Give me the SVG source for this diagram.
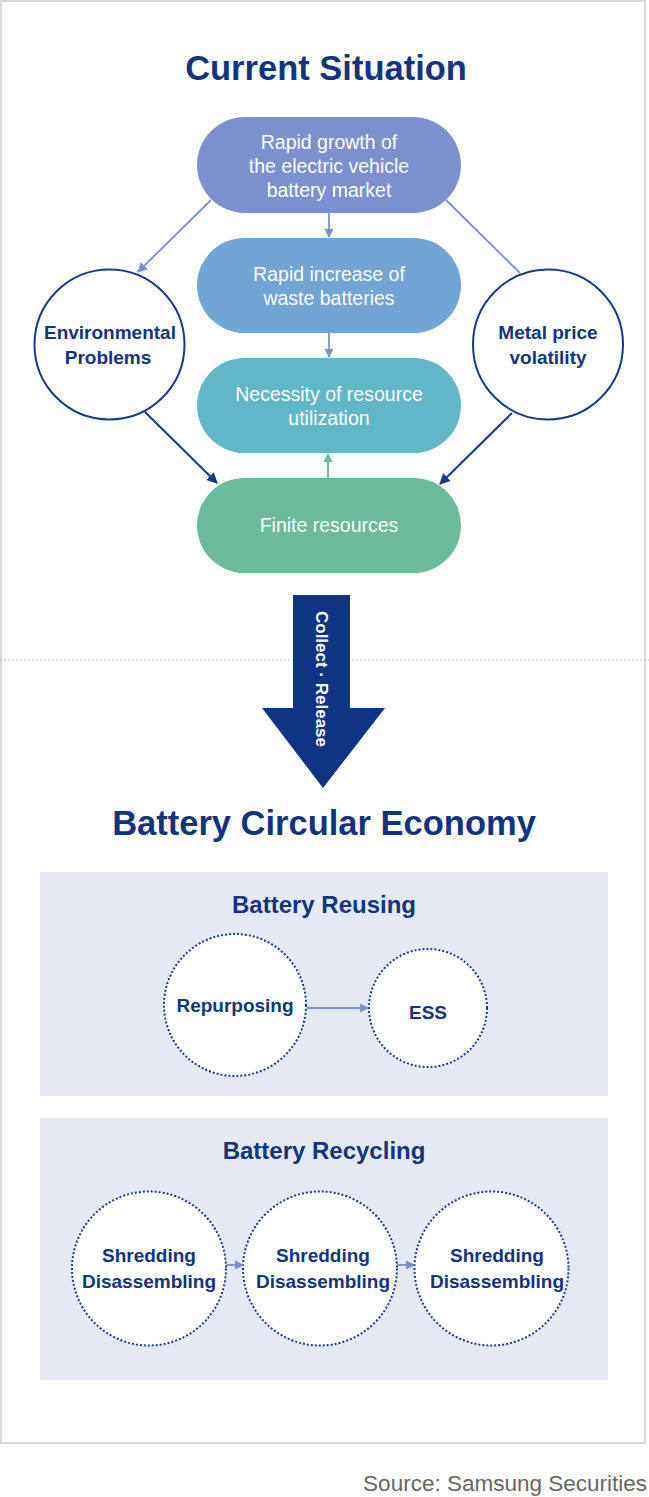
<svg xmlns="http://www.w3.org/2000/svg" width="649" height="1497" viewBox="0 0 649 1497">
<style>
.title{font-family:"Liberation Sans",Arial,sans-serif;font-weight:bold;font-size:34.5px;fill:#12347f;text-anchor:middle}
.sub{font-family:"Liberation Sans",Arial,sans-serif;font-weight:bold;font-size:24px;fill:#12347f;text-anchor:middle}
.pt{font-family:"Liberation Sans",Arial,sans-serif;font-size:19.5px;fill:#ffffff;text-anchor:middle}
.ct{font-family:"Liberation Sans",Arial,sans-serif;font-weight:bold;font-size:19px;fill:#12347f;text-anchor:middle}
.circ{fill:#ffffff;stroke:#163a8a;stroke-width:2}
.dot{fill:#ffffff;stroke:#1b3c88;stroke-width:2;stroke-dasharray:2 2}
.lt{stroke:#7b8fd0;stroke-width:1.8;fill:none}
.nv{stroke:#163a8a;stroke-width:2;fill:none}
.gr{stroke:#6aba9b;stroke-width:2;fill:none}
</style>
<defs>
<marker id="aL" viewBox="0 0 10 10" refX="9" refY="5" markerWidth="9" markerHeight="10" markerUnits="userSpaceOnUse" orient="auto"><path d="M0,0 L10,5 L0,10 z" fill="#7b8fd0"/></marker>
<marker id="aL2" viewBox="0 0 10 10" refX="9" refY="5" markerWidth="10" markerHeight="10" markerUnits="userSpaceOnUse" orient="auto"><path d="M0,0 L10,5 L0,10 z" fill="#7b8fd0"/></marker>
<marker id="aN" viewBox="0 0 10 10" refX="9" refY="5" markerWidth="11" markerHeight="11" markerUnits="userSpaceOnUse" orient="auto"><path d="M0,0 L10,5 L0,10 z" fill="#163a8a"/></marker>
<marker id="aG" viewBox="0 0 10 10" refX="9" refY="5" markerWidth="9" markerHeight="9" markerUnits="userSpaceOnUse" orient="auto"><path d="M0,0 L10,5 L0,10 z" fill="#6aba9b"/></marker>
</defs>
<rect x="1" y="1" width="644" height="1442" fill="#ffffff" stroke="#d9d9d9" stroke-width="2"/>
<line x1="0" y1="660" x2="649" y2="660" stroke="#b8bcc8" stroke-width="1" stroke-dasharray="2 2"/>
<text class="title" x="326" y="80">Current Situation</text>

<g id="pill-growth">
<rect x="197" y="117" width="264" height="96" rx="48" fill="#7c8fcf"/>
<text class="pt" x="329" y="149">Rapid growth of</text>
<text class="pt" x="329" y="173">the electric vehicle</text>
<text class="pt" x="329" y="197">battery market</text>
</g>
<g id="pill-waste">
<rect x="197" y="238" width="264" height="95" rx="47.5" fill="#70a5d5"/>
<text class="pt" x="329" y="281">Rapid increase of</text>
<text class="pt" x="329" y="305">waste batteries</text>
</g>
<g id="pill-necessity">
<rect x="197" y="358" width="264" height="95" rx="47.5" fill="#62b7c7"/>
<text class="pt" x="329" y="401">Necessity of resource</text>
<text class="pt" x="329" y="425">utilization</text>
</g>
<g id="pill-finite">
<rect x="197" y="478" width="264" height="95" rx="47.5" fill="#6aba9b"/>
<text class="pt" x="329" y="532">Finite resources</text>
</g>
<g id="circle-env">
<circle class="circ" cx="109.5" cy="344.5" r="75"/>
<text class="ct" x="110" y="339">Environmental</text>
<text class="ct" x="108" y="364">Problems</text>
</g>
<g id="circle-metal">
<circle class="circ" cx="548" cy="344.5" r="75"/>
<text class="ct" x="548" y="339">Metal price</text>
<text class="ct" x="548" y="364">volatility</text>
</g>

<g id="big-arrow">
<path d="M293,595 L350,595 L350,708 L385,708 L323,788 L262,708 L293,708 z" fill="#0f3483"/>
<text transform="translate(316,679) rotate(90)" x="0" y="0" font-family="Liberation Sans, Arial, sans-serif" font-weight="bold" font-size="17" fill="#ffffff" text-anchor="middle">Collect · Release</text>
</g>

<text class="title" x="324" y="835">Battery Circular Economy</text>

<g id="panel-reusing">
<rect x="40" y="872" width="568" height="224" fill="#e5e9f4"/>
<text class="sub" x="324" y="913">Battery Reusing</text>
</g>
<g id="node-repurposing">
<circle class="dot" cx="235" cy="1005" r="71"/>
<text class="ct" x="235" y="1012">Repurposing</text>
</g>
<g id="node-ess">
<circle class="dot" cx="428" cy="1008" r="59"/>
<text class="ct" x="428" y="1019">ESS</text>
</g>

<g id="panel-recycling">
<rect x="40" y="1118" width="568" height="262" fill="#e5e9f4"/>
<text class="sub" x="324" y="1159">Battery Recycling</text>
</g>
<g id="node-shred1">
<circle class="dot" cx="149" cy="1268.5" r="77"/>
<text class="ct" x="149" y="1262">Shredding</text>
<text class="ct" x="149" y="1288">Disassembling</text>
</g>
<g id="node-shred2">
<circle class="dot" cx="320" cy="1268.5" r="77"/>
<text class="ct" x="323" y="1262">Shredding</text>
<text class="ct" x="323" y="1288">Disassembling</text>
</g>
<g id="node-shred3">
<circle class="dot" cx="491.5" cy="1268.5" r="77"/>
<text class="ct" x="497" y="1262">Shredding</text>
<text class="ct" x="497" y="1288">Disassembling</text>
</g>

<g id="connectors">
<line class="lt" x1="329" y1="213" x2="329" y2="237" marker-end="url(#aL)"/>
<line class="lt" x1="329" y1="333" x2="329" y2="357" marker-end="url(#aL)"/>
<line class="gr" x1="328" y1="478" x2="328" y2="454" marker-end="url(#aG)"/>
<line class="lt" x1="211" y1="200" x2="138" y2="272" marker-end="url(#aL2)"/>
<line class="lt" x1="446" y1="200" x2="520" y2="273"/>
<line class="nv" x1="145" y1="412" x2="217" y2="483" marker-end="url(#aN)"/>
<line class="nv" x1="512" y1="413" x2="440" y2="484" marker-end="url(#aN)"/>
<line class="lt" x1="307" y1="1008" x2="368" y2="1008" marker-end="url(#aL)"/>
<line class="lt" x1="226" y1="1265" x2="243" y2="1265" marker-end="url(#aL)"/>
<line class="lt" x1="397" y1="1265" x2="414" y2="1265" marker-end="url(#aL)"/>
</g>

<text x="647" y="1491" font-family="Liberation Sans, Arial, sans-serif" font-size="22.5" fill="#666666" text-anchor="end">Source: Samsung Securities</text>
</svg>
